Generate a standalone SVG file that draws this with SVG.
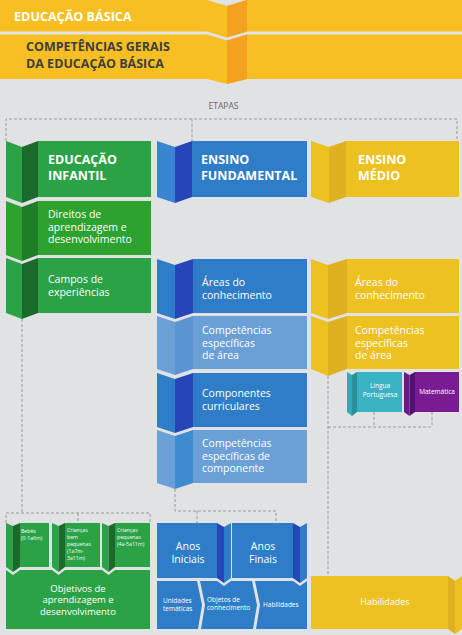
<svg xmlns="http://www.w3.org/2000/svg" width="462" height="635" viewBox="0 0 462 635">
<style>
.t{font-family:"Open Sans","Liberation Sans",sans-serif;fill:#fff}
.h{font-weight:700;font-size:12.5px}
.b{font-size:10.5px}
.s{font-size:5.2px}
.m{font-size:6.5px}
.c{text-anchor:middle}
.d{fill:none;stroke:#9a9a9a;stroke-width:1;stroke-dasharray:3 2}
.g{fill:#2BA245}.gd{fill:#1B6A2B}
.g2{fill:#2DA22E}.g2d{fill:#1F7D29}
.bl{fill:#2F7DC8}.bd{fill:#2646B8}.bh{fill:#3A85D2}
.lb{fill:#6BA0D7}.lbd{fill:#5B95D1}.lbd2{fill:#3F8BCF}
.y{fill:#EDC11F}.yd{fill:#DEB120}
</style>
<rect width="462" height="635" fill="#E1E2E4"/>

<g id="educacao-basica">
<polygon points="0,0 207,0 227,6 247,0 462,0 462,31.5 247,31.5 227,37.5 207,31.5 0,31.5" fill="#F7BF22"/>
<polygon points="227,6 247,0 247,31.5 227,37.5" fill="#F4A21F"/>
<text class="t" x="14" y="21" font-weight="700" font-size="12.6">EDUCAÇÃO BÁSICA</text>
</g>
<g id="competencias-gerais">
<polygon points="0,34.5 207,34.5 227,40.5 247,34.5 462,34.5 462,79 247,79 227,84 207,79 0,79" fill="#F7BF22"/>
<polygon points="227,40.5 247,34.5 247,79 227,84" fill="#F4A21F"/>
<text class="t" x="26" y="51" font-weight="700" font-size="12.5" style="fill:#3E3E3E">COMPETÊNCIAS GERAIS</text>
<text class="t" x="26" y="67.5" font-weight="700" font-size="12.5" style="fill:#3E3E3E">DA EDUCAÇÃO BÁSICA</text>
</g>
<text class="t c" x="223.5" y="109" font-size="8.5" style="fill:#666">ETAPAS</text>

<g id="connectors">
<polyline class="d" points="6,141 6,119 457,119 457,141"/>
<line class="d" x1="192" y1="119" x2="192" y2="141"/>
<line class="d" x1="22" y1="319" x2="22" y2="513"/>
<polyline class="d" points="6,523 6,513 150,513 150,523"/>
<line class="d" x1="78" y1="513" x2="78" y2="523"/>
<polyline class="d" points="175,489 175,511 276,511 276,523"/>
<line class="d" x1="197" y1="511" x2="197" y2="523"/>
<line class="d" x1="374" y1="412" x2="374" y2="427"/>
<line class="d" x1="432" y1="412" x2="432" y2="427"/>
<line class="d" x1="328" y1="427" x2="432" y2="427"/>
<line class="d" x1="328" y1="376" x2="328" y2="576"/>
</g>

<g id="educacao-infantil">
<polygon class="g" points="6,141 22,147 22,203 6,197"/>
<polygon class="gd" points="22,147 38,141 38,197 22,203"/>
<rect class="g" x="38" y="141" width="113" height="56"/>
<text class="t h" x="48" y="164">EDUCAÇÃO</text>
<text class="t h" x="48" y="180">INFANTIL</text>
</g>
<g id="direitos">
<polygon class="g2" points="6,201 22,207 22,261 6,255"/>
<polygon class="g2d" points="22,207 38,201 38,255 22,261"/>
<rect class="g2" x="38" y="201" width="113" height="54"/>
<text class="t b" x="48" y="218">Direitos de</text>
<text class="t b" x="48" y="230.5">aprendizagem e</text>
<text class="t b" x="48" y="243">desenvolvimento</text>
</g>
<g id="campos">
<polygon class="g" points="6,258 22,264 22,319 6,313"/>
<polygon class="gd" points="22,264 38,258 38,313 22,319"/>
<rect class="g" x="38" y="258" width="113" height="55"/>
<text class="t b" x="48" y="283">Campos de</text>
<text class="t b" x="48" y="295.5">experiências</text>
</g>

<g id="ensino-fundamental">
<polygon class="bh" points="157,141 175,147 175,203 157,197"/>
<polygon class="bd" points="175,147 192,141 192,197 175,203"/>
<rect class="bl" x="192" y="141" width="115" height="56"/>
<text class="t h" x="201" y="164">ENSINO</text>
<text class="t h" x="201" y="180">FUNDAMENTAL</text>
</g>
<g id="ef-areas">
<polygon class="bl" points="157,259 175,265 175,319 157,313"/>
<polygon class="bd" points="175,265 193,259 193,313 175,319"/>
<rect class="bl" x="193" y="259" width="114" height="54"/>
<text class="t b" x="202" y="286">Áreas do</text>
<text class="t b" x="202" y="298.5">conhecimento</text>
</g>
<g id="ef-competencias-area">
<polygon class="lb" points="157,316 175,322 175,375 157,369"/>
<polygon class="lbd" points="175,322 193,316 193,369 175,375"/>
<rect class="lb" x="193" y="316" width="114" height="53"/>
<text class="t b" x="202" y="334">Competências</text>
<text class="t b" x="202" y="346.5">específicas</text>
<text class="t b" x="202" y="359">de área</text>
</g>
<g id="ef-componentes">
<polygon class="bl" points="157,373 175,379 175,433 157,427"/>
<polygon class="bd" points="175,379 193,373 193,427 175,433"/>
<rect class="bl" x="193" y="373" width="114" height="54"/>
<text class="t b" x="202" y="397">Componentes</text>
<text class="t b" x="202" y="409.5">curriculares</text>
</g>
<g id="ef-competencias-componente">
<polygon class="lb" points="157,430 175,436 175,489 157,483"/>
<polygon class="lbd2" points="175,436 193,430 193,483 175,489"/>
<rect class="lb" x="193" y="430" width="114" height="53"/>
<text class="t b" x="202" y="447">Competências</text>
<text class="t b" x="202" y="459.5">específicas de</text>
<text class="t b" x="202" y="472">componente</text>
</g>

<g id="ensino-medio">
<polygon class="y" points="311,141 329,147 329,203 311,197"/>
<polygon class="yd" points="329,147 346,141 346,197 329,203"/>
<rect class="y" x="346" y="141" width="113" height="56"/>
<text class="t h" x="358" y="164">ENSINO</text>
<text class="t h" x="358" y="180">MÉDIO</text>
</g>
<g id="em-areas">
<polygon class="y" points="311,259 328,265 328,319 311,313"/>
<polygon class="yd" points="328,265 347,259 347,313 328,319"/>
<rect class="y" x="347" y="259" width="112" height="54"/>
<text class="t b" x="355" y="286">Áreas do</text>
<text class="t b" x="355" y="298.5">conhecimento</text>
</g>
<g id="em-competencias-area">
<polygon class="y" points="311,316 328,322 328,376 311,369"/>
<polygon class="yd" points="328,322 347,316 347,369 328,376"/>
<rect class="y" x="347" y="316" width="112" height="53"/>
<text class="t b" x="355" y="334">Competências</text>
<text class="t b" x="355" y="346.5">específicas</text>
<text class="t b" x="355" y="359">de área</text>
</g>
<g id="lingua-portuguesa">
<polygon points="347,372 352,375 352,416 347,412" fill="#34A8B5"/>
<polygon points="352,375 357,372 357,412 352,416" fill="#2A8F9B"/>
<rect x="357" y="372" width="45" height="40" fill="#39B3C1"/>
<text class="t m c" x="380" y="388">Língua</text>
<text class="t m c" x="380" y="396.5">Portuguesa</text>
</g>
<g id="matematica">
<polygon points="404,372 409.5,375 409.5,416 404,412" fill="#6C1888"/>
<polygon points="409.5,375 415,372 415,412 409.5,416" fill="#551172"/>
<rect x="415" y="372" width="44" height="40" fill="#7B1B94"/>
<text class="t m c" x="437" y="394">Matemática</text>
</g>

<g id="bebes">
<polygon class="g" points="6,523 13,526 13,572 6,567"/>
<polygon class="gd" points="13,526 20,523 20,567 13,572"/>
<rect class="g" x="20" y="523" width="29" height="44"/>
<text class="t s" x="21" y="532.5">Bebês</text>
<text class="t s" x="21" y="539.5">(0-1a6m)</text>
</g>
<g id="criancas-bem-pequenas">
<polygon class="g" points="52,523 58.5,526 58.5,572 52,567"/>
<polygon class="gd" points="58.5,526 65,523 65,567 58.5,572"/>
<rect class="g" x="65" y="523" width="35" height="44"/>
<text class="t s" x="67" y="531.5">Crianças</text>
<text class="t s" x="67" y="538.5">bem</text>
<text class="t s" x="67" y="545.5">pequenas</text>
<text class="t s" x="67" y="552.5">(1a7m-</text>
<text class="t s" x="67" y="559.5">3a11m)</text>
</g>
<g id="criancas-pequenas">
<polygon class="g" points="102,523 108.5,526 108.5,572 102,567"/>
<polygon class="gd" points="108.5,526 115,523 115,567 108.5,572"/>
<rect class="g" x="115" y="523" width="35" height="44"/>
<text class="t s" x="117" y="531.5">Crianças</text>
<text class="t s" x="117" y="538.5">pequenas</text>
<text class="t s" x="117" y="545.5">(4a-5a11m)</text>
</g>
<g id="objetivos">
<polygon class="g" points="6,570 13,575 20,570 52,570 58.5,575 65,570 102,570 108.5,575 115,570 150,570 150,629 6,629"/>
<text class="t c" x="78" y="591.5" font-size="9.5">Objetivos de</text>
<text class="t c" x="78" y="603" font-size="9.5">aprendizagem e</text>
<text class="t c" x="78" y="614.5" font-size="9.5">desenvolvimento</text>
</g>

<g id="anos-iniciais">
<rect class="bl" x="157" y="523" width="60" height="55"/>
<polygon class="bd" points="217,523 224,527 224,583 217,578"/>
<polygon class="bl" points="224,527 231,523 231,578 224,583"/>
<text class="t c" x="188" y="550" font-size="10.5">Anos</text>
<text class="t c" x="188" y="563" font-size="10.5">Iniciais</text>
</g>
<g id="anos-finais">
<rect class="bl" x="232" y="523" width="61" height="55"/>
<polygon class="bd" points="293,523 300,527 300,583 293,578"/>
<polygon class="bl" points="300,527 307,523 307,578 300,583"/>
<text class="t c" x="263" y="550" font-size="10.5">Anos</text>
<text class="t c" x="263" y="563" font-size="10.5">Finais</text>
</g>
<g id="unidades-tematicas">
<polygon class="bl" points="157,581 197,581 202,605 198,629 157,629"/>
<text class="t m" x="163" y="602.5">Unidades</text>
<text class="t m" x="163" y="610.5">temáticas</text>
</g>
<g id="objetos-conhecimento">
<polygon class="bl" points="200,581 217,581 224,586 231,581 252,581 257,605 253,629 201,629 205,605"/>
<text class="t m" x="207" y="601.5">Objetos de</text>
<text class="t m" x="207" y="609.5">conhecimento</text>
</g>
<g id="ef-habilidades">
<polygon class="bl" points="255,581 293,581 300,586 307,581 307,629 256,629 260,605"/>
<text class="t m" x="263" y="607">Habilidades</text>
</g>

<g id="em-habilidades">
<rect class="y" x="311" y="576" width="137" height="53"/>
<polygon class="yd" points="448,576 455,581 455,634 448,629"/>
<polygon class="y" points="455,581 462,576 462,629 455,634"/>
<text class="t c" x="385" y="605" font-size="9">Habilidades</text>
</g>
</svg>
